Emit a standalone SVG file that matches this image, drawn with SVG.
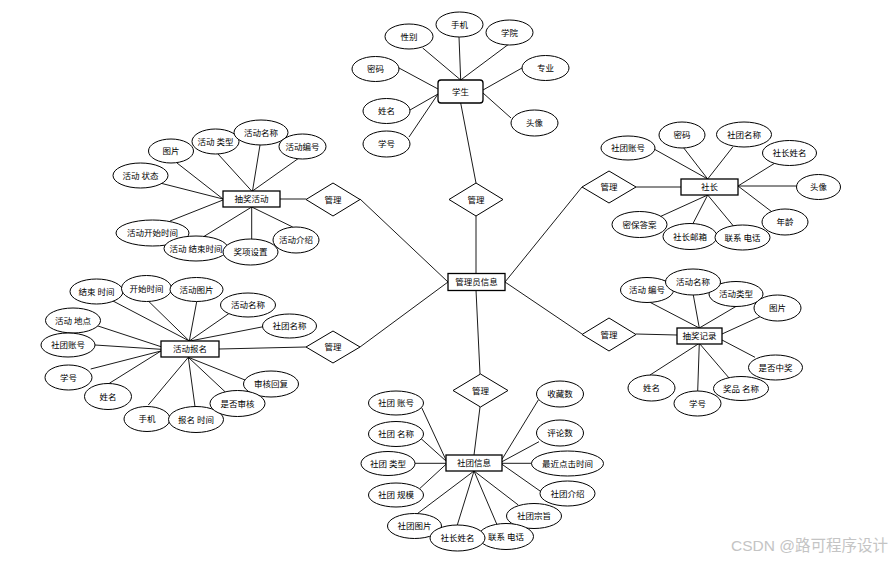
<svg xmlns="http://www.w3.org/2000/svg" width="892" height="564" viewBox="0 0 892 564">
<style>
.bg{fill:#fff}
line{stroke:#000;stroke-width:0.9}
ellipse{fill:#fff;stroke:#000;stroke-width:1}
rect{fill:#fff;stroke:#000;stroke-width:1.3}
polygon{fill:#fff;stroke:#000;stroke-width:1}
text{font-family:"Noto Sans CJK SC","Noto Sans",sans-serif;font-size:8.5px;fill:#000;text-anchor:middle}
.wm{font-family:"Liberation Sans","Noto Sans CJK SC",sans-serif;font-size:15.5px;fill:#c4c4c4;text-anchor:end}
</style>
<rect class="bg" x="0" y="0" width="892" height="564" style="stroke:none"/>
<g id="connectors">
<line x1="476" y1="273" x2="476" y2="216"/>
<line x1="360" y1="199" x2="448" y2="282"/>
<line x1="360" y1="347" x2="448" y2="282"/>
<line x1="582" y1="187" x2="505" y2="282"/>
<line x1="582" y1="334" x2="505" y2="282"/>
<line x1="476" y1="290" x2="480" y2="374"/>
<line x1="476" y1="183" x2="460.7" y2="103"/>
<line x1="306" y1="199" x2="280" y2="199"/>
<line x1="636" y1="187" x2="681" y2="187"/>
<line x1="306" y1="347" x2="219" y2="349"/>
<line x1="636" y1="334" x2="677" y2="335"/>
<line x1="480" y1="407" x2="474" y2="455"/>
<line x1="422.7" y1="48" x2="460.7" y2="80"/>
<line x1="459" y1="37" x2="460.7" y2="80"/>
<line x1="508" y1="44.7" x2="460.7" y2="80"/>
<line x1="399" y1="68" x2="438" y2="89"/>
<line x1="410" y1="110" x2="438" y2="94"/>
<line x1="409" y1="137" x2="438" y2="94"/>
<line x1="522" y1="68" x2="483" y2="90"/>
<line x1="511" y1="118" x2="483" y2="93"/>
<line x1="177" y1="163" x2="223" y2="199"/>
<line x1="218" y1="154" x2="251.7" y2="191"/>
<line x1="260" y1="145" x2="252.5" y2="191"/>
<line x1="299" y1="158" x2="252.5" y2="191"/>
<line x1="160" y1="183" x2="223" y2="199"/>
<line x1="170" y1="221" x2="223" y2="200"/>
<line x1="203" y1="237" x2="251.7" y2="207"/>
<line x1="251.7" y1="239" x2="251.7" y2="207"/>
<line x1="292.7" y1="227" x2="251.7" y2="207"/>
<line x1="654" y1="149" x2="707.7" y2="179"/>
<line x1="683" y1="147" x2="707.7" y2="179"/>
<line x1="733" y1="146.7" x2="707.7" y2="179"/>
<line x1="776.7" y1="162" x2="738" y2="186"/>
<line x1="796.7" y1="186" x2="738" y2="186"/>
<line x1="771.7" y1="211.7" x2="738" y2="186"/>
<line x1="660" y1="216.7" x2="707.7" y2="195"/>
<line x1="691.7" y1="226" x2="707.7" y2="195"/>
<line x1="734" y1="226.7" x2="707.7" y2="195"/>
<line x1="113" y1="301" x2="189.3" y2="341"/>
<line x1="148.3" y1="301" x2="189.3" y2="341"/>
<line x1="196.7" y1="301.7" x2="189.3" y2="341"/>
<line x1="229.3" y1="313.3" x2="189.3" y2="341"/>
<line x1="263.3" y1="326.7" x2="190" y2="341"/>
<line x1="95" y1="325" x2="161" y2="346.7"/>
<line x1="95" y1="345" x2="161" y2="349.3"/>
<line x1="90.7" y1="369" x2="161" y2="351"/>
<line x1="109.3" y1="383.3" x2="161" y2="351"/>
<line x1="148.3" y1="405" x2="188.3" y2="357.3"/>
<line x1="195" y1="406.7" x2="188.3" y2="357.3"/>
<line x1="225" y1="391.7" x2="188.3" y2="357.3"/>
<line x1="245" y1="380" x2="188.3" y2="357.3"/>
<line x1="650" y1="302.3" x2="699.3" y2="328"/>
<line x1="693.3" y1="295" x2="699.3" y2="328"/>
<line x1="736.7" y1="306" x2="699.3" y2="328"/>
<line x1="760" y1="316.7" x2="722" y2="334"/>
<line x1="755" y1="357.3" x2="722" y2="340"/>
<line x1="650" y1="375" x2="699.3" y2="343.3"/>
<line x1="697.7" y1="391" x2="699.3" y2="343.3"/>
<line x1="729.3" y1="378.3" x2="699.3" y2="343.3"/>
<line x1="421.7" y1="407.7" x2="446" y2="460"/>
<line x1="420.7" y1="438.3" x2="446" y2="461"/>
<line x1="415" y1="463.3" x2="446" y2="463.3"/>
<line x1="420" y1="488.3" x2="446" y2="464.3"/>
<line x1="413.3" y1="516.7" x2="474" y2="471"/>
<line x1="457.3" y1="525" x2="474" y2="471"/>
<line x1="496.7" y1="524" x2="474" y2="471"/>
<line x1="518.3" y1="505" x2="474" y2="471"/>
<line x1="543.3" y1="493.3" x2="502" y2="464.3"/>
<line x1="531.7" y1="463.3" x2="502" y2="463.3"/>
<line x1="539" y1="441.7" x2="502" y2="461.7"/>
<line x1="538.3" y1="400" x2="502" y2="459.3"/>
</g>
<g id="admin"><rect x="448" y="273.5" width="57" height="17"/><text x="476.5" y="285">管理员信息</text></g>
<g id="rel-student"><polygon points="476,183 503,199.5 476,216 449,199.5"/><text x="476" y="202.5">管理</text></g>
<g id="rel-lottery"><polygon points="333,183 360,199.5 333,216 306,199.5"/><text x="333" y="202.5">管理</text></g>
<g id="rel-president"><polygon points="609,171 636,187 609,203 582,187"/><text x="609" y="190">管理</text></g>
<g id="rel-signup"><polygon points="333,331 360,347 333,363 306,347"/><text x="333" y="350">管理</text></g>
<g id="rel-record"><polygon points="609,318 636,334.5 609,351 582,334.5"/><text x="609" y="337.5">管理</text></g>
<g id="rel-club"><polygon points="480.5,374 508,390.5 480.5,407 453,390.5"/><text x="480.5" y="393.5">管理</text></g>
<g id="student">
<rect x="438" y="80" width="45" height="23" rx="3"/><text x="460.5" y="94.5">学生</text>
<ellipse cx="409" cy="36.5" rx="24" ry="12.5"/><text x="409" y="39.5">性别</text>
<ellipse cx="459.5" cy="24.5" rx="23.5" ry="12.5"/><text x="459.5" y="27.5">手机</text>
<ellipse cx="509.5" cy="32.5" rx="23.5" ry="12.5"/><text x="509.5" y="35.5">学院</text>
<ellipse cx="375.5" cy="69" rx="23.5" ry="12.5"/><text x="375.5" y="72">密码</text>
<ellipse cx="545.5" cy="68" rx="23.5" ry="12.5"/><text x="545.5" y="71">专业</text>
<ellipse cx="386.5" cy="111" rx="23.5" ry="12.5"/><text x="386.5" y="114">姓名</text>
<ellipse cx="534.5" cy="123" rx="23.5" ry="13"/><text x="534.5" y="126">头像</text>
<ellipse cx="386.5" cy="144" rx="23.5" ry="13"/><text x="386.5" y="147">学号</text>
</g>
<g id="lottery-activity">
<rect x="223" y="191" width="57" height="16"/><text x="251.5" y="202">抽奖活动</text>
<ellipse cx="171" cy="151" rx="22.5" ry="12"/><text x="171" y="154">图片</text>
<ellipse cx="215.5" cy="141.5" rx="23.5" ry="12.5"/><text x="215.5" y="144.5">活动 类型</text>
<ellipse cx="261" cy="132.5" rx="27" ry="12.5"/><text x="261" y="135.5">活动名称</text>
<ellipse cx="302.5" cy="146.5" rx="23.5" ry="12.5"/><text x="302.5" y="149.5">活动编号</text>
<ellipse cx="140.5" cy="175.5" rx="27.5" ry="12.5"/><text x="140.5" y="178.5">活动 状态</text>
<ellipse cx="152.5" cy="233" rx="36.5" ry="13"/><text x="152.5" y="236">活动开始时间</text>
<ellipse cx="196" cy="248.5" rx="32" ry="12.5"/><text x="196" y="251.5">活动 结束时间</text>
<ellipse cx="250.5" cy="252" rx="27.5" ry="13"/><text x="250.5" y="255">奖项设置</text>
<ellipse cx="296" cy="240" rx="23" ry="13"/><text x="296" y="243">活动介绍</text>
</g>
<g id="president">
<rect x="681" y="179" width="57" height="16"/><text x="709.5" y="190">社长</text>
<ellipse cx="628" cy="148" rx="27" ry="12"/><text x="628" y="151">社团账号</text>
<ellipse cx="682" cy="135" rx="23" ry="13"/><text x="682" y="138">密码</text>
<ellipse cx="744" cy="134.5" rx="27.5" ry="12.5"/><text x="744" y="137.5">社团名称</text>
<ellipse cx="789.5" cy="153" rx="27" ry="12.5"/><text x="789.5" y="156">社长姓名</text>
<ellipse cx="818.5" cy="187" rx="22" ry="12.5"/><text x="818.5" y="190">头像</text>
<ellipse cx="785" cy="222" rx="23" ry="13"/><text x="785" y="225">年龄</text>
<ellipse cx="639.5" cy="224.5" rx="27.5" ry="13"/><text x="639.5" y="227.5">密保答案</text>
<ellipse cx="690" cy="236.5" rx="27" ry="13"/><text x="690" y="239.5">社长邮箱</text>
<ellipse cx="742.5" cy="237.5" rx="27.5" ry="12.5"/><text x="742.5" y="240.5">联系 电话</text>
</g>
<g id="signup">
<rect x="161" y="341" width="58" height="16"/><text x="190" y="352">活动报名</text>
<ellipse cx="96.5" cy="291.5" rx="26.5" ry="12.5"/><text x="96.5" y="294.5">结束 时间</text>
<ellipse cx="146.5" cy="288.5" rx="25" ry="13"/><text x="146.5" y="291.5">开始时间</text>
<ellipse cx="196.5" cy="289.5" rx="26.5" ry="12"/><text x="196.5" y="292.5">活动图片</text>
<ellipse cx="248" cy="305" rx="27.5" ry="12"/><text x="248" y="308">活动名称</text>
<ellipse cx="289.5" cy="326" rx="27" ry="12"/><text x="289.5" y="329">社团名称</text>
<ellipse cx="73" cy="320.5" rx="27.5" ry="12.5"/><text x="73" y="323.5">活动 地点</text>
<ellipse cx="68" cy="345" rx="27" ry="12"/><text x="68" y="348">社团账号</text>
<ellipse cx="68.5" cy="377.5" rx="23.5" ry="12.5"/><text x="68.5" y="380.5">学号</text>
<ellipse cx="108" cy="396.5" rx="23.5" ry="13"/><text x="108" y="399.5">姓名</text>
<ellipse cx="147" cy="419" rx="23" ry="12.5"/><text x="147" y="422">手机</text>
<ellipse cx="196" cy="419.5" rx="27.5" ry="13"/><text x="196" y="422.5">报名 时间</text>
<ellipse cx="271" cy="384" rx="27.5" ry="13"/><text x="271" y="387">审核回复</text>
<ellipse cx="237.5" cy="403.5" rx="27.5" ry="13"/><text x="237.5" y="406.5">是否审核</text>
</g>
<g id="lottery-record">
<rect x="677" y="328" width="45" height="16"/><text x="699.5" y="339">抽奖记录</text>
<ellipse cx="647" cy="290" rx="26.5" ry="12.5"/><text x="647" y="293">活动 编号</text>
<ellipse cx="736" cy="294" rx="27" ry="12.5"/><text x="736" y="297">活动类型</text>
<ellipse cx="693" cy="282" rx="27.5" ry="13"/><text x="693" y="285">活动名称</text>
<ellipse cx="777.5" cy="308" rx="23.5" ry="13"/><text x="777.5" y="311">图片</text>
<ellipse cx="775.5" cy="367.5" rx="27" ry="12.5"/><text x="775.5" y="370.5">是否中奖</text>
<ellipse cx="651.5" cy="388" rx="23.5" ry="13"/><text x="651.5" y="391">姓名</text>
<ellipse cx="697.5" cy="403.5" rx="23.5" ry="12.5"/><text x="697.5" y="406.5">学号</text>
<ellipse cx="741" cy="388.5" rx="27.5" ry="12"/><text x="741" y="391.5">奖品 名称</text>
</g>
<g id="club-info">
<rect x="446" y="455" width="56" height="16"/><text x="474" y="466">社团信息</text>
<ellipse cx="396" cy="403" rx="27.5" ry="12"/><text x="396" y="406">社团 账号</text>
<ellipse cx="396" cy="434" rx="27.5" ry="12.5"/><text x="396" y="437">社团 名称</text>
<ellipse cx="388" cy="463.5" rx="27" ry="12"/><text x="388" y="466.5">社团 类型</text>
<ellipse cx="396" cy="495" rx="27.5" ry="12"/><text x="396" y="498">社团 规模</text>
<ellipse cx="414.5" cy="526" rx="27" ry="12.5"/><text x="414.5" y="529">社团图片</text>
<ellipse cx="534" cy="516" rx="27.5" ry="12.5"/><text x="534" y="519">社团宗旨</text>
<ellipse cx="506" cy="536.5" rx="27.5" ry="13"/><text x="506" y="539.5">联系 电话</text>
<ellipse cx="457.5" cy="538" rx="27.5" ry="13"/><text x="457.5" y="541">社长姓名</text>
<ellipse cx="567.5" cy="493.5" rx="27.5" ry="12.5"/><text x="567.5" y="496.5">社团介绍</text>
<ellipse cx="567.5" cy="463.5" rx="36" ry="12.5"/><text x="567.5" y="466.5">最近点击时间</text>
<ellipse cx="560" cy="433" rx="23.5" ry="13"/><text x="560" y="436">评论数</text>
<ellipse cx="560" cy="394" rx="23.5" ry="13"/><text x="560" y="397">收藏数</text>
</g>
<text class="wm" x="888" y="551">CSDN @路可程序设计</text>
</svg>
